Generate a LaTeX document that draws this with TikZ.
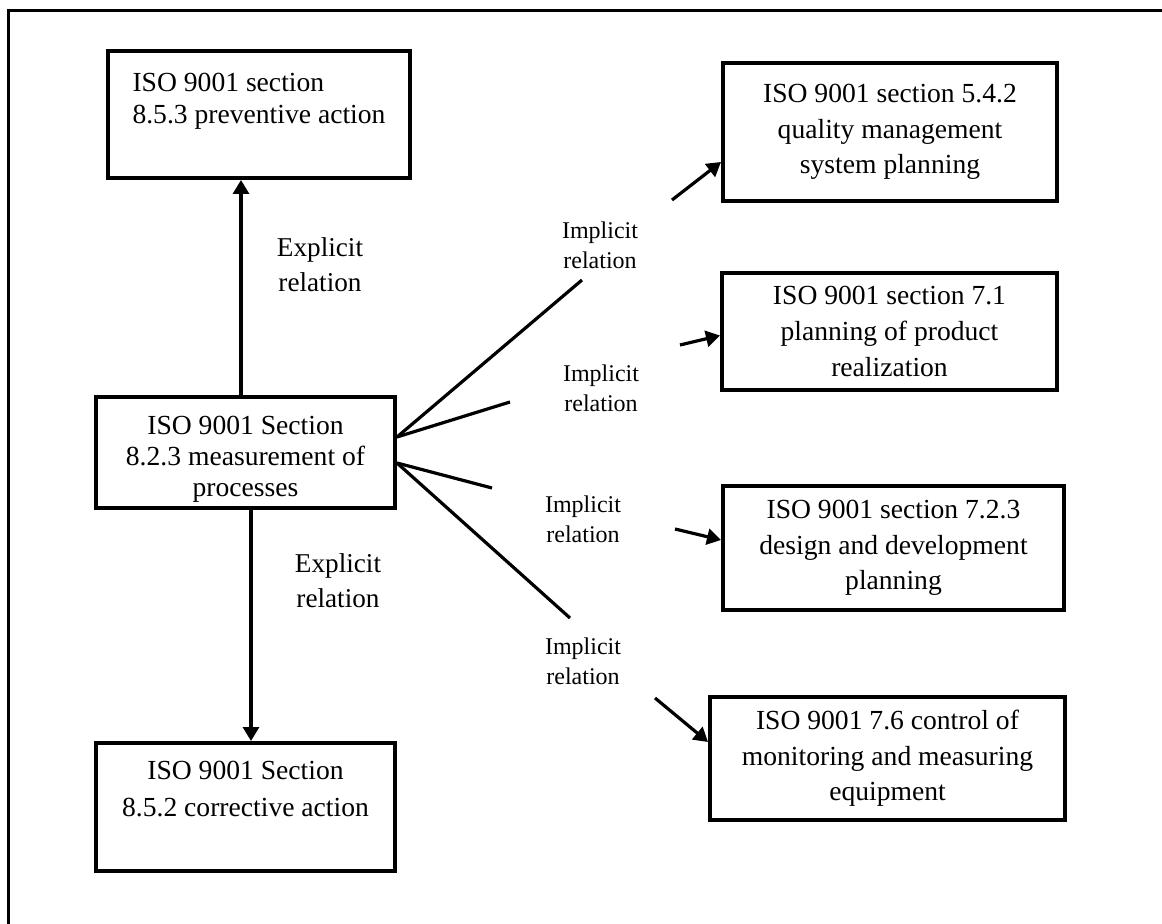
\documentclass[tikz,border=0pt]{standalone}
\usepackage{fontspec}
\setmainfont{Liberation Serif}
\usetikzlibrary{arrows.meta,calc}
\begin{document}
\begin{tikzpicture}[x=0.5pt,y=-0.5pt,
  box/.style={draw, line width=2pt, rectangle, inner sep=0pt, align=center,
              font=\fontsize{13.8}{17.8}\selectfont},
  conn/.style={line width=1.6pt},
  arr/.style={line width=1.6pt, -{Triangle[length=7pt,width=8pt]}},
  lbl/.style={align=center, inner sep=0pt, font=\fontsize{13.6}{17.5}\selectfont},
  ilbl/.style={align=center, inner sep=0pt, font=\fontsize{12}{15}\selectfont}]

\useasboundingbox (0,0) rectangle (1162,924);
\draw[line width=1.5pt] (1162,11) -- (8,11) -- (8,924);

% boxes
\node[box, minimum width=151pt, minimum height=63.5pt, align=left,
      font=\fontsize{13.8}{16}\selectfont] (prev) at (259,114.5)
  {ISO 9001 section\\8.5.3 preventive action\\\mbox{}};
\node[box, minimum width=149.5pt, minimum height=55.5pt,
      font=\fontsize{13.8}{15.5}\selectfont] (mid) at (245.5,452.5)
  {\rule{0pt}{15.5pt}ISO 9001 Section\\8.2.3 measurement of\\processes};
\node[box, minimum width=149.5pt, minimum height=64pt,
      font=\fontsize{13.8}{18.5}\selectfont] (corr) at (245.5,807)
  {ISO 9001 Section\\8.5.2 corrective action\\\mbox{}};
\node[box, minimum width=167pt, minimum height=69pt] (b542) at (890,132)
  {ISO 9001 section 5.4.2\\quality management\\system planning};
\node[box, minimum width=167.5pt, minimum height=58.5pt] (b71) at (889.5,331.5)
  {ISO 9001 section 7.1\\planning of product\\realization};
\node[box, minimum width=170.5pt, minimum height=62pt] (b723) at (893.5,548)
  {ISO 9001 section 7.2.3\\design and development\\planning};
\node[box, minimum width=177.5pt, minimum height=61.5pt] (b76) at (887.5,758.5)
  {ISO 9001 7.6 control of\\monitoring and measuring\\equipment};

% labels
\node[lbl] (ex1) at (320,264.5) {Explicit\\relation};
\node[lbl] (ex2) at (338,580.5) {Explicit\\relation};
\node[ilbl] (im1) at (600,245) {Implicit\\relation};
\node[ilbl] (im2) at (601,388) {Implicit\\relation};
\node[ilbl] (im3) at (583,519) {Implicit\\relation};
\node[ilbl] (im4) at (583,661) {Implicit\\relation};

% explicit arrows
\coordinate (u0) at ($(mid.north)+(-4.5,0)$);
\coordinate (d0) at ($(mid.south)+(5.5,0)$);
\draw[arr] (u0) -- (u0 |- prev.south);
\draw[arr] (d0) -- (d0 |- corr.north);

% implicit lines from mid
\coordinate (e1) at (582,280);
\coordinate (e2) at (510,402);
\coordinate (e3) at (492,488);
\coordinate (e4) at (570,618);
\draw[conn] ($(mid.east)+(0,-15.5)$) -- (e1);
\draw[conn] ($(mid.east)+(0,-15.5)$) -- (e2);
\draw[conn] ($(mid.east)+(0,10.5)$) -- (e3);
\draw[conn] ($(mid.east)+(0,10.5)$) -- (e4);

% implicit arrows to boxes
\coordinate (s1) at (672,200);
\coordinate (s2) at (680,345);
\coordinate (s3) at (675,529);
\coordinate (s4) at (655,698);
\draw[arr] (s1) -- ($(b542.west)+(0,30)$);
\draw[arr] (s2) -- ($(b71.west)+(0,4)$);
\draw[arr] (s3) -- ($(b723.west)+(0,-8)$);
\draw[arr] (s4) -- ($(b76.west)+(0,-16.5)$);
\end{tikzpicture}
\end{document}
